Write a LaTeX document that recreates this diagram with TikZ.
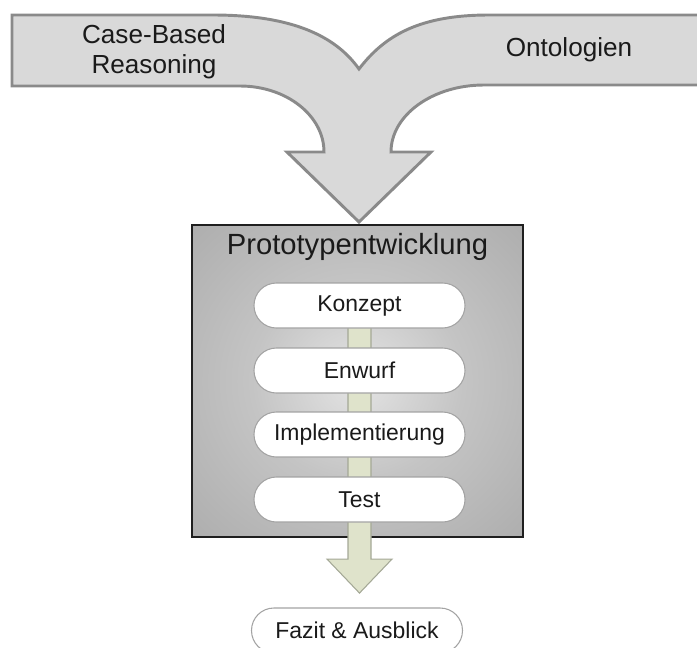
\documentclass[tikz,border=0pt]{standalone}
\usepackage{fontspec}
\setmainfont{Liberation Sans}
\usetikzlibrary{calc}

\definecolor{bandfill}{HTML}{D9D9D9}
\definecolor{bandline}{HTML}{8A8A8A}
\definecolor{boxin}{HTML}{E4E4E4}
\definecolor{boxmid}{HTML}{C4C4C4}
\definecolor{boxout}{HTML}{A2A2A2}
\definecolor{boxcorner}{HTML}{969696}
\definecolor{boxline}{HTML}{1F1F1F}
\definecolor{pillline}{HTML}{A3A3A3}
\definecolor{flowfill}{HTML}{DFE3CB}
\definecolor{flowline}{HTML}{A4A896}
\definecolor{ink}{HTML}{1A1A1A}

\pgfdeclareradialshading{boxshade}{\pgfpoint{0bp}{0bp}}{%
  color(0bp)=(boxin); color(16bp)=(boxmid); color(46bp)=(boxout); color(71bp)=(boxcorner)}

\pgfdeclarelayer{boxlayer}
\pgfdeclarelayer{flowlayer}
\pgfsetlayers{boxlayer,flowlayer,main}

\tikzset{
  band/.style={fill=bandfill, draw=bandline, line width=2.2pt},
  phasebox/.style={shading=boxshade, draw=boxline, line width=1.6pt,
    minimum width=248.25pt, minimum height=234pt, inner sep=0pt},
  pill/.style={fill=white, draw=pillline, line width=0.8pt, rounded corners=16.8pt,
    minimum width=158.25pt, minimum height=33.75pt, inner sep=0pt,
    font=\fontsize{17.2}{20}\selectfont, text=ink},
  flow/.style={fill=flowfill, draw=flowline, line width=0.8pt},
  bandlabel/.style={font=\fontsize{19.6}{22.5}\selectfont, text=ink, align=center, inner sep=0pt},
  title/.style={font=\fontsize{21.9}{24}\selectfont, text=ink, inner sep=0pt}
}

\begin{document}
\begin{tikzpicture}[x=0.75pt, y=-0.75pt]
\useasboundingbox (0,0) rectangle (697,647);

% the two merging input streams and their common arrow
\draw[band] (12,15) -- (213,15)
  .. controls (290,15) and (335,35) .. (359,69)
  .. controls (385,35) and (420,15) .. (489,15)
  -- (712,15) -- (712,85) -- (484,85)
  .. controls (432.7,85) and (391,115) .. (391,152)
  -- (431,152) -- (359,222) -- (287,152) -- (324,152)
  .. controls (324,115.6) and (286.4,86) .. (240,86)
  -- (12,86) -- cycle;

\node[bandlabel] (cbr) at (154,52) {Case-Based\\Reasoning};
\node[bandlabel] (onto) at (569,50) {Ontologien};

% development phase box
\begin{pgfonlayer}{boxlayer}
  \node[phasebox] (proto) at (357.5,381) {};
\end{pgfonlayer}
\node[title] (prototitle) at (357.5,246.5) {Prototypentwicklung};

% steps
\node[pill] (konzept) at (359.5,305.5) {Konzept};
\node[pill] (entwurf) at (359.5,370.5) {Enwurf};
\node[pill] (impl) at (359.5,434.5) {Implementierung};
\node[pill] (test) at (359.5,499.5) {Test};
\node[pill] (fazit) at (357,630.5) {Fazit \& Ausblick};

% flow bar running through the steps and out of the box
\begin{pgfonlayer}{flowlayer}
  \draw[flow] ($(konzept.center)+(-11.5,0)$) -- ($(konzept.center)+(11.5,0)$)
    -- ($(konzept.center |- proto.south)+(11.5,21)$)
    -- ($(konzept.center |- proto.south)+(32.5,21)$)
    -- ($(konzept.center |- proto.south)+(0,55)$)
    -- ($(konzept.center |- proto.south)+(-32.5,21)$)
    -- ($(konzept.center |- proto.south)+(-11.5,21)$) -- cycle;
\end{pgfonlayer}
\end{tikzpicture}
\end{document}
